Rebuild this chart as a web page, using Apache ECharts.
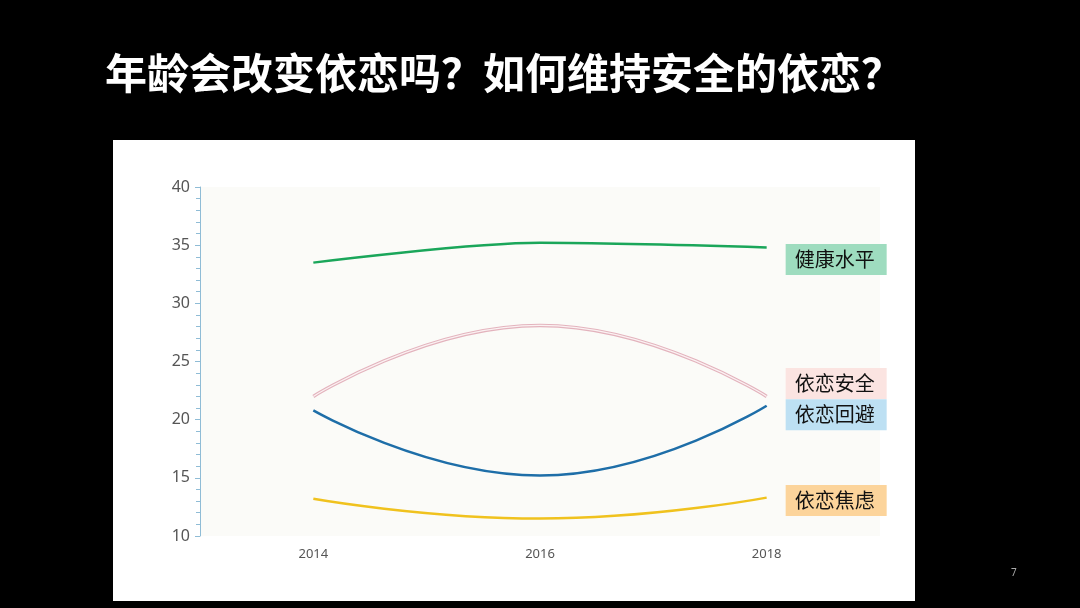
<!DOCTYPE html>
<html>
<head>
<meta charset="utf-8">
<script src="https://cdn.jsdelivr.net/npm/echarts@6/dist/echarts.min.js"></script>
<style>
  html, body { margin: 0; padding: 0; background: #000; }
  #chart { width: 1080px; height: 608px; }
</style>
</head>
<body>
<div id="chart"></div>
<script>
var years = ['2014', '2016', '2018'];
var seriesNames = ['健康水平', '依恋安全', '依恋回避', '依恋焦虑'];
var health = [33.5, 35.2, 34.8];
var secure = [22.0, 28.1, 22.0];
var avoidant = [20.8, 15.2, 21.2];
var anxious = [13.2, 11.5, 13.3];

var chart = echarts.init(document.getElementById('chart'));
var cjk = '"Noto Sans CJK SC", "Noto Sans", sans-serif';

// label box next to the last point of each line
function endLabel(bg, dy) {
    return {
        show: true,
        formatter: '{a}',
        distance: 19,
        offset: [0, dy],
        color: '#111',
        fontSize: 20,
        fontFamily: cjk,
        backgroundColor: bg,
        padding: [6, 12, 5, 9]
    };
}

var option = {
    backgroundColor: '#000',
    animation: false,
    title: {
        text: '年龄会改变依恋吗？如何维持安全的依恋？',
        left: 100,
        top: 47,
        textStyle: {
            color: '#fff',
            fontSize: 42,
            fontWeight: 'bold',
            fontFamily: cjk
        }
    },
    graphic: [{
        type: 'rect',
        z: -10,
        shape: { x: 113, y: 140, width: 802, height: 461 },
        style: { fill: '#fff' }
    }, {
        type: 'text',
        left: 1011,
        top: 568,
        style: { text: '7', fill: '#aaa', fontSize: 10, fontFamily: 'Noto Sans' }
    }],
    grid: {
        left: 200,
        right: 200,
        top: 187,
        bottom: 72,
        show: true,
        borderWidth: 0,
        backgroundColor: '#fbfbf8'
    },
    xAxis: {
        type: 'category',
        data: years,
        axisLine: { show: false },
        axisTick: { show: false },
        axisLabel: {
            color: '#555',
            fontSize: 13,
            margin: 12,
            fontFamily: 'Noto Sans'
        }
    },
    yAxis: {
        type: 'value',
        min: 10,
        max: 40,
        interval: 5,
        splitLine: { show: false },
        axisLine: { show: true, lineStyle: { color: '#8fbcd6', width: 1 } },
        axisTick: { show: true, length: 5, lineStyle: { color: '#8fbcd6' } },
        minorTick: { show: true, splitNumber: 5, length: 4, lineStyle: { color: '#8fbcd6' } },
        axisLabel: {
            color: '#555',
            fontSize: 16,
            margin: 10,
            fontFamily: 'Noto Sans'
        }
    },
    series: [{
        name: seriesNames[0],
        type: 'line',
        data: health,
        smooth: 0.3,
        showSymbol: false,
        lineStyle: { color: '#1aa65a', width: 2.5 },
        endLabel: endLabel('#9edcbf', 12)
    }, {
        name: seriesNames[1],
        type: 'line',
        data: secure,
        smooth: true,
        showSymbol: false,
        lineStyle: { color: '#e3b3bd', width: 3.5 },
        endLabel: endLabel('#fbe4e1', -13)
    }, {
        name: seriesNames[1] + ' ',
        type: 'line',
        data: secure,
        smooth: true,
        showSymbol: false,
        lineStyle: { color: '#fbf1f2', width: 1.2 }
    }, {
        name: seriesNames[2],
        type: 'line',
        data: avoidant,
        smooth: true,
        showSymbol: false,
        lineStyle: { color: '#1e6ea8', width: 2.5 },
        endLabel: endLabel('#bde0f3', 9)
    }, {
        name: seriesNames[3],
        type: 'line',
        data: anxious,
        smooth: true,
        showSymbol: false,
        lineStyle: { color: '#f0c21e', width: 2.5 },
        endLabel: endLabel('#fcd49b', 3)
    }]
};
chart.setOption(option);
</script>
</body>
</html>
